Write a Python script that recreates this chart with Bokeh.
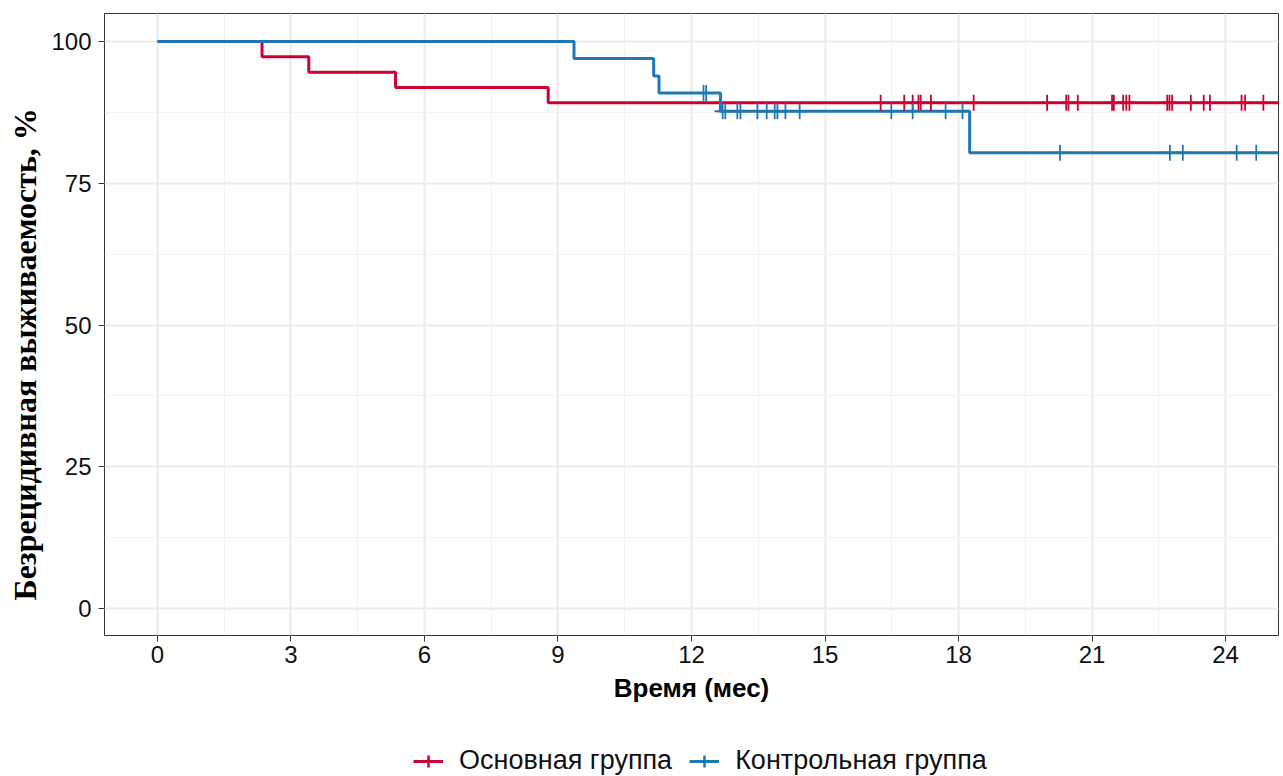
from bokeh.plotting import figure
from bokeh.models import Range1d, SingleIntervalTicker, Title, Legend, LegendItem
from bokeh.layouts import column
from bokeh.embed import file_html
from bokeh.resources import INLINE

# ---------------- data ----------------
groups = ["Основная группа", "Контрольная группа"]

main_event_times = [2.35, 3.40, 5.35, 8.78]
main_surv = [97.3, 94.6, 91.9, 89.2]
main_censor = [16.25, 16.78, 16.97, 17.10, 17.15, 17.38, 18.34, 19.99, 20.42,
               20.47, 20.68, 21.45, 21.49, 21.70, 21.77, 21.84, 22.69, 22.74,
               22.80, 23.22, 23.51, 23.65, 24.36, 24.44, 24.85]

ctrl_event_times = [9.36, 11.15, 11.27, 12.65, 18.25]
ctrl_surv = [97.0, 93.9, 90.9, 87.7, 80.4]
ctrl_censor = [12.27, 12.33, 12.70, 12.76, 13.03, 13.10, 13.48, 13.69, 13.87,
               13.93, 14.11, 14.43, 16.49, 16.97, 17.71, 18.09, 20.28, 22.75,
               23.04, 24.25, 24.69]

follow_up_end = 25.3
x_tick_step = 3
y_tick_step = 25

RED = "#CC0033"
BLUE = "#1F78B4"
NAN = float("nan")


def step_xy(times, surv, end):
    xs = [0.0] + list(times) + [end]
    ys = [100.0] + list(surv) + [surv[-1]]
    return xs, ys


def surv_at(t, times, surv):
    s = 100.0
    for ti, si in zip(times, surv):
        if t >= ti:
            s = si
    return s


# ---------------- main figure ----------------
p = figure(width=1283, height=705, output_backend="svg", toolbar_location=None,
           x_range=Range1d(-1.19, 25.19), y_range=Range1d(-4.76, 104.94),
           min_border_left=104, min_border_right=5, min_border_top=13,
           min_border_bottom=70)

p.background_fill_color = "white"
p.border_fill_color = "white"
p.outline_line_color = "#333333"
p.outline_line_width = 1

p.xaxis.ticker = SingleIntervalTicker(interval=x_tick_step, num_minor_ticks=2)
p.yaxis.ticker = SingleIntervalTicker(interval=y_tick_step, num_minor_ticks=2)

for g in (p.xgrid, p.ygrid):
    g.grid_line_color = "#EBEBEB"
    g.grid_line_width = 2
    g.minor_grid_line_color = "#F2F2F2"
    g.minor_grid_line_width = 1

for ax in (p.xaxis, p.yaxis):
    ax.axis_line_color = None
    ax.major_tick_line_color = "#333333"
    ax.major_tick_line_width = 1
    ax.major_tick_out = 6
    ax.major_tick_in = 0
    ax.minor_tick_line_color = None
    ax.major_label_text_font = "Liberation Sans"
    ax.major_label_text_font_size = "24px"
    ax.major_label_text_color = "#111111"

p.xaxis.major_label_standoff = 4
p.yaxis.major_label_standoff = 7
p.xaxis.axis_label = "Время (мес)"
p.xaxis.axis_label_text_font = "Liberation Sans"
p.xaxis.axis_label_text_font_size = "26px"
p.xaxis.axis_label_text_font_style = "bold"
p.xaxis.axis_label_text_color = "#000000"
p.xaxis.axis_label_standoff = 7

ytitle = Title(text="Безрецидивная выживаемость, %", align="left", offset=35,
               vertical_align="middle", standoff=10,
               text_font="Liberation Serif", text_font_size="32px",
               text_font_style="bold", text_color="#000000")
p.add_layout(ytitle, "left")

mx, my = step_xy(main_event_times, main_surv, follow_up_end)
cx, cy = step_xy(ctrl_event_times, ctrl_surv, follow_up_end)

p.step(mx, my, mode="after", line_color=RED, line_width=3)
p.step(cx, cy, mode="after", line_color=BLUE, line_width=3)

p.scatter(main_censor,
          [surv_at(t, main_event_times, main_surv) for t in main_censor],
          marker="cross", size=16, line_color=RED, line_width=1.8)
p.scatter(ctrl_censor,
          [surv_at(t, ctrl_event_times, ctrl_surv) for t in ctrl_censor],
          marker="cross", size=16, line_color=BLUE, line_width=1.8)

# ---------------- legend strip ----------------
q = figure(width=1283, height=71, output_backend="svg", toolbar_location=None,
           x_range=Range1d(0, 1), y_range=Range1d(0, 1),
           x_axis_type=None, y_axis_type=None,
           min_border_left=0, min_border_right=0, min_border_top=0,
           min_border_bottom=0)
q.outline_line_color = None
q.grid.visible = False
q.border_fill_color = "white"

items = []
for name, col in zip(groups, [RED, BLUE]):
    rl = q.line(x=[NAN], y=[NAN], line_color=col, line_width=3)
    rs = q.scatter(x=[NAN], y=[NAN], marker="cross", line_color=col,
                   line_width=2.5)
    items.append(LegendItem(label=name, renderers=[rl, rs]))

leg = Legend(items=items, orientation="horizontal", location=(309, 0),
             padding=0, margin=0, spacing=17, label_standoff=16,
             glyph_width=30, glyph_height=30,
             label_text_font="Liberation Sans", label_text_font_size="27px",
             label_text_color="#111111",
             border_line_color=None, background_fill_alpha=0)
q.add_layout(leg, "center")

layout = column(p, q, spacing=0)

open("out.html", "w").write(file_html(layout, INLINE))
